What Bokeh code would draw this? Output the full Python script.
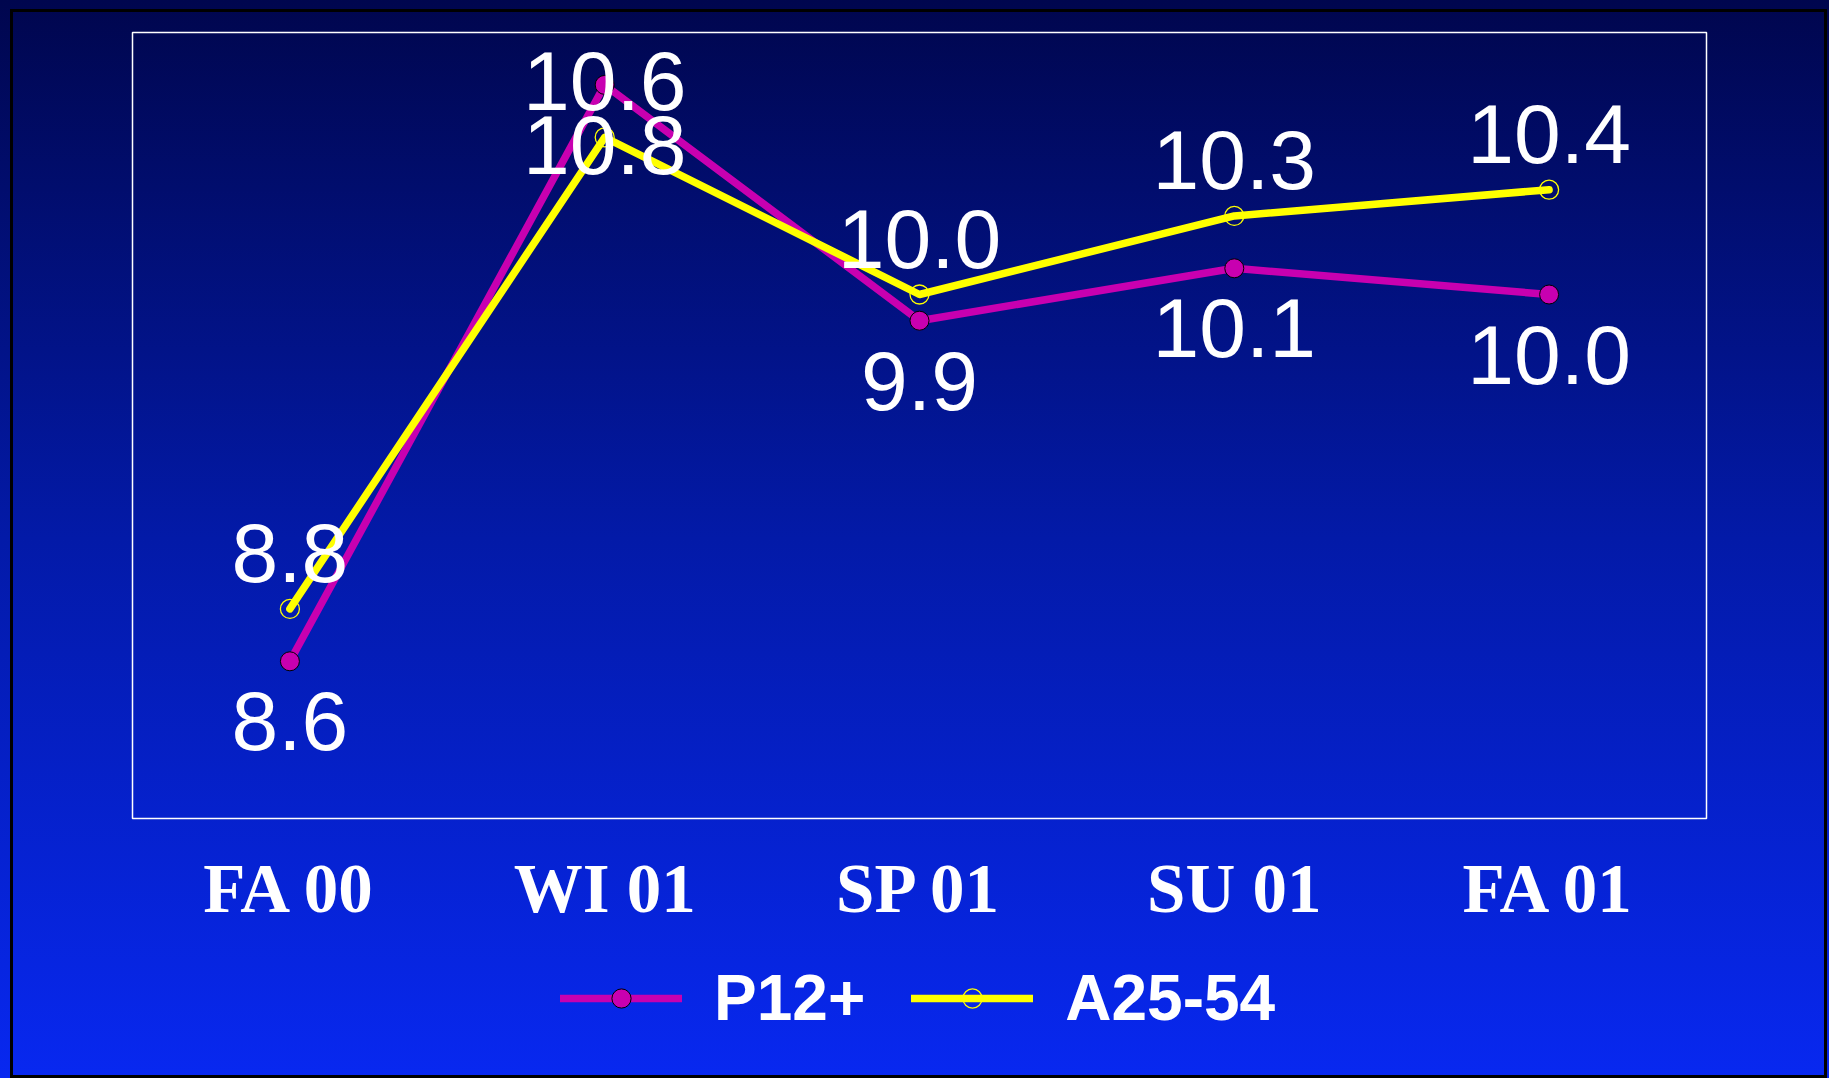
from bokeh.plotting import figure
from bokeh.layouts import column
from bokeh.models import (ColumnDataSource, FactorRange, Range1d, Legend, LegendItem)
from bokeh.core.properties import value
from bokeh.embed import file_html
from bokeh.resources import INLINE

# Seasons on the horizontal axis
seasons = ["FA 00", "WI 01", "SP 01", "SU 01", "FA 01"]

# Ratings per season
p12_values = [8.6, 10.8, 9.9, 10.1, 10.0]
a2554_values = [8.8, 10.6, 10.0, 10.3, 10.4]

# Hidden vertical scale
y_limits = (8.0, 11.0)

# Label placement: P12+ under its points, A25-54 above (screen px)
P12_LABEL_DY = 60
A2554_LABEL_DY = -56

MAGENTA = "#c800b0"
YELLOW = "#ffff00"

W, H = 1829, 1078
LEGEND_H = 138

p = figure(
    width=W, height=H - LEGEND_H,
    x_range=FactorRange(*seasons, range_padding=0),
    y_range=Range1d(*y_limits),
    output_backend="svg", toolbar_location=None,
    y_axis_location=None,
    min_border_left=132, min_border_right=123,
    min_border_top=32, min_border_bottom=H - LEGEND_H - 818,
)
p.background_fill_alpha = 0
p.border_fill_alpha = 0
p.outline_line_color = "white"
p.outline_line_width = 1.5
p.xgrid.grid_line_color = None
p.ygrid.grid_line_color = None

ax = p.xaxis[0]
ax.axis_line_color = None
ax.major_tick_line_color = None
ax.minor_tick_line_color = None
ax.major_tick_out = 0
ax.major_label_standoff = 32
ax.major_label_text_font = "Liberation Serif"
ax.major_label_text_font_style = "bold"
ax.major_label_text_font_size = "69px"
ax.major_label_text_color = "white"

p12_src = ColumnDataSource(dict(
    x=seasons, y=p12_values, label=[f"{v:.1f}" for v in p12_values]))
a_src = ColumnDataSource(dict(
    x=seasons, y=a2554_values, label=[f"{v:.1f}" for v in a2554_values]))

line_style = dict(line_width=7.5, line_cap="round", line_join="round")
p12_marker = dict(size=19, fill_color=MAGENTA, line_color="black", line_width=1)
a_marker = dict(size=19, fill_alpha=0, line_color=YELLOW, line_width=1.3)

# P12+ series
p.line("x", "y", source=p12_src, line_color=MAGENTA, **line_style)
p.scatter("x", "y", source=p12_src, **p12_marker)

# A25-54 series
p.line("x", "y", source=a_src, line_color=YELLOW, **line_style)
p.scatter("x", "y", source=a_src, **a_marker)

# Value labels
label_style = dict(text_font=value("Liberation Sans"), text_font_size="84px",
                   text_color="white", text_align="center",
                   text_baseline="alphabetic")
p.text("x", "y", text="label", y_offset=P12_LABEL_DY, source=p12_src, **label_style)
p.text("x", "y", text="label", y_offset=A2554_LABEL_DY, source=a_src, **label_style)

# Legend strip underneath the chart; its key renderers sit outside the visible range
lg = figure(
    width=W, height=LEGEND_H, output_backend="svg", toolbar_location=None,
    x_axis_location=None, y_axis_location=None,
    x_range=FactorRange(*seasons, range_padding=0), y_range=Range1d(100, 101),
    min_border=0,
)
lg.background_fill_alpha = 0
lg.border_fill_alpha = 0
lg.outline_line_color = None
lg.xgrid.grid_line_color = None
lg.ygrid.grid_line_color = None

k_p12_line = lg.line("x", "y", source=p12_src, line_color=MAGENTA, **line_style)
k_p12_pts = lg.scatter("x", "y", source=p12_src, **p12_marker)
k_a_line = lg.line("x", "y", source=a_src, line_color=YELLOW, **line_style)
k_a_pts = lg.scatter("x", "y", source=a_src, **a_marker)

legend = Legend(
    items=[LegendItem(label="P12+", renderers=[k_p12_line, k_p12_pts]),
           LegendItem(label="A25-54", renderers=[k_a_line, k_a_pts])],
    location=(428, 43), orientation="horizontal",
    border_line_alpha=0, background_fill_alpha=0,
    label_text_font="Liberation Sans", label_text_font_style="bold",
    label_text_font_size="64px", label_text_color="white",
    glyph_width=122, glyph_height=48, label_standoff=32, spacing=46,
    padding=0, margin=0,
)
lg.add_layout(legend)

page = column(p, lg, spacing=0)
# Gradient backdrop with an inset black frame
page.styles = {
    "background": (
        "linear-gradient(#000,#000) 10px 9px / 1817px 3px no-repeat, "
        "linear-gradient(#000,#000) 10px 1075px / 1817px 3px no-repeat, "
        "linear-gradient(#000,#000) 10px 9px / 3px 1069px no-repeat, "
        "linear-gradient(#000,#000) 1824px 9px / 3px 1069px no-repeat, "
        "linear-gradient(to bottom, #00064e 0%, #031aa8 50%, #0828f0 100%)"
    )
}

open("out.html", "w").write(file_html(page, INLINE))
